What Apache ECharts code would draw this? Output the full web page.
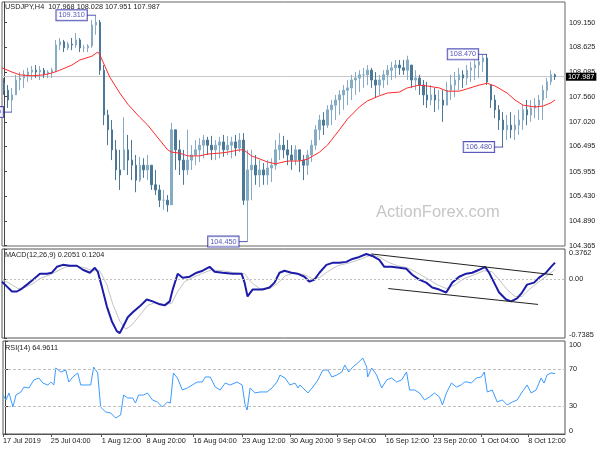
<!DOCTYPE html>
<html><head><meta charset="utf-8">
<script src="https://cdn.jsdelivr.net/npm/echarts@6/dist/echarts.min.js"></script>
<style>html,body{margin:0;padding:0;background:#fff}#c{width:600px;height:450px}</style>
</head><body><div id="c"></div>
<script>
// ---------- DATA ----------
// Price bars (each bar ~ 2.7 H4 bars), values in JPY
const barHigh = [107.96,107.81,107.75,108.03,108.09,108.13,108.18,108.22,108.24,108.22,
108.18,108.13,108.18,108.78,108.82,108.78,108.74,108.82,108.93,108.82,
108.67,108.69,109.21,109.31,109.21,108.24,107.28,107.06,106.63,106.42,
107.12,106.74,106.63,106.31,106.27,106.24,106.31,106.09,105.99,105.67,
105.56,105.45,107.00,106.85,106.63,106.42,106.85,106.52,106.63,106.67,
106.74,106.70,106.72,106.63,106.70,106.74,106.72,106.70,106.74,106.78,
106.78,106.42,106.42,106.31,106.20,106.14,106.20,106.24,106.63,106.78,
106.72,106.63,106.52,106.52,106.42,106.31,106.42,106.63,106.95,107.17,
107.23,107.38,107.49,107.60,107.70,107.81,107.92,108.03,108.09,108.13,
108.18,108.24,108.18,108.09,108.03,108.13,108.24,108.31,108.35,108.35,
108.35,108.44,108.24,108.13,108.03,107.92,107.88,107.81,107.75,107.70,
107.70,107.88,108.03,108.09,108.18,108.13,108.24,108.31,108.35,108.41,
108.46,108.47,107.81,107.60,107.38,107.23,107.17,107.23,107.17,107.28,
107.38,107.49,107.49,107.53,107.60,107.81,107.96,108.13,108.06];
const barLow = [107.60,107.32,107.23,107.60,107.70,107.75,107.88,107.92,107.96,107.92,
107.96,107.96,107.96,108.09,108.56,108.52,108.56,108.56,108.61,108.52,
108.52,108.52,108.61,108.89,108.03,106.95,106.52,106.20,105.77,105.56,
105.99,105.88,105.77,105.51,105.73,105.82,105.77,105.56,105.45,105.19,
105.13,105.09,105.24,105.99,105.88,105.67,105.88,105.99,106.09,106.16,
106.24,106.31,106.20,106.20,106.24,106.27,106.31,106.24,106.29,106.37,
105.24,104.45,105.34,105.67,105.62,105.67,105.67,105.73,105.99,106.20,
106.24,106.09,105.99,106.09,105.94,105.77,105.88,106.16,106.42,106.63,
106.74,106.89,106.95,107.06,107.17,107.28,107.38,107.49,107.60,107.66,
107.75,107.81,107.75,107.53,107.60,107.75,107.81,107.92,107.96,108.03,
108.03,107.92,107.75,107.70,107.60,107.38,107.32,107.38,107.23,107.28,
107.02,107.38,107.49,107.55,107.70,107.75,107.81,107.88,107.92,107.96,
108.09,107.81,107.32,107.10,106.85,106.48,106.63,106.67,106.63,106.74,
106.85,106.95,107.02,107.10,107.06,107.06,107.53,107.81,107.92];
const barClose = [107.70,107.49,107.60,107.92,107.96,108.03,108.09,108.13,108.09,108.13,
108.05,108.09,108.13,108.67,108.74,108.61,108.69,108.67,108.78,108.61,
108.61,108.65,109.10,109.16,108.13,107.17,106.85,106.42,105.99,105.88,
106.42,106.20,106.09,105.77,106.09,105.99,106.09,105.67,105.56,105.34,
105.34,105.24,106.85,106.42,106.20,105.99,106.20,106.31,106.42,106.52,
106.63,106.52,106.42,106.52,106.59,106.42,106.52,106.59,106.46,106.63,
105.34,105.99,106.09,105.88,105.99,105.88,106.03,106.09,106.42,106.52,
106.42,106.31,106.20,106.42,106.20,106.09,106.31,106.52,106.85,107.06,
106.95,107.28,107.38,107.49,107.60,107.70,107.75,107.92,107.96,108.03,
108.03,108.13,107.92,107.81,107.92,108.03,108.13,108.18,108.24,108.18,
108.13,108.35,107.92,107.96,107.81,107.60,107.49,107.60,107.49,107.49,
107.38,107.70,107.81,107.92,108.03,107.96,108.13,108.18,108.24,108.31,
108.39,107.88,107.49,107.28,107.06,106.85,106.95,106.85,106.95,107.06,
107.28,107.17,107.32,107.38,107.49,107.70,107.88,108.03,107.987];
const firstOpen = 107.85;
const lastPrice = 107.987;
const slotCount = 141;

// Moving average [bar position, price]
const maPoints = [[-0.5,108.18],[2,108.09],[4,108.03],[7,108.01],[10,108.03],[12,108.07],[14,108.13],[17,108.24],[19,108.35],[22,108.43],[23.5,108.52],[24,108.46],[26.5,107.98],[29,107.64],[31,107.40],[34,107.12],[36,106.95],[39,106.63],[41,106.42],[42,106.37],[44,106.35],[46,106.29],[49,106.29],[51,106.33],[54,106.35],[56,106.37],[59,106.42],[60,106.42],[62,106.29],[66,106.16],[68,106.12],[71,106.18],[74,106.18],[76,106.22],[79,106.37],[81,106.52],[84,106.85],[86,107.08],[89,107.34],[91,107.47],[94,107.58],[96,107.64],[99,107.66],[101,107.75],[104,107.81],[106,107.79],[109,107.75],[111,107.68],[114,107.68],[116,107.73],[119,107.81],[121,107.85],[123,107.79],[126,107.64],[128,107.49],[130,107.38],[133,107.34],[135,107.36],[137,107.43],[138,107.49]];

// Swing high/low labels
const extremePos = [2, 23, 61, 121, 125];
const extremePrice = [107.230, 109.310, 104.450, 108.470, 106.480];

// MACD main line and signal [bar position, value]
const macdPoints = [[-0.5,-0.033],[0.75,-0.095],[2,-0.156],[3.25,-0.156],[4.5,-0.119],[5.75,-0.070],[7.25,-0.008],[9,0.067],[10.75,0.067],[12,0.079],[13.25,0.153],[14.75,0.178],[16.5,0.166],[18.25,0.166],[19.75,0.116],[21.5,0.079],[22.75,0.141],[23.5,0.091],[24.5,-0.095],[25.75,-0.342],[27,-0.528],[28.25,-0.652],[29,-0.677],[29.75,-0.603],[31,-0.478],[32.25,-0.417],[34,-0.342],[35.75,-0.256],[37.25,-0.280],[39,-0.317],[40.25,-0.330],[41.5,-0.280],[42.25,-0.132],[43.5,0.067],[44.75,0.017],[46.5,0.029],[48.25,0.079],[49.75,0.104],[51.5,0.153],[52.75,0.091],[54.75,0.079],[57.25,0.067],[59.5,0.067],[60.25,-0.045],[61,-0.218],[62.25,-0.132],[64.75,-0.132],[66.5,-0.107],[67.75,-0.045],[69,0.079],[70.25,0.104],[72,0.079],[73.5,0.067],[75.25,0.029],[76.5,-0.033],[77.75,-0.008],[79,0.079],[80.75,0.178],[82.25,0.203],[84,0.203],[85.75,0.215],[87.25,0.252],[89,0.277],[90.75,0.314],[92.25,0.289],[94,0.240],[95.25,0.153],[97,0.153],[99,0.141],[100.75,0.128],[102.25,0.054],[104,-0.008],[105.75,-0.045],[107.25,-0.107],[109,-0.132],[110.75,-0.169],[112.25,-0.045],[114,0.029],[115.75,0.067],[117.25,0.079],[119,0.116],[120.5,0.153],[121.5,0.079],[122.75,-0.045],[124,-0.169],[125.75,-0.256],[127,-0.280],[128.5,-0.243],[129.75,-0.169],[131,-0.070],[132.75,-0.045],[134,0.017],[135.75,0.079],[137,0.153],[138,0.2051]];
const signalPoints = [[-0.5,-0.008],[1.5,-0.057],[3.5,-0.119],[5.25,-0.107],[7.25,-0.057],[9,0.005],[11.5,0.054],[13.5,0.104],[15.5,0.153],[17.75,0.166],[20.25,0.141],[22.25,0.104],[24,0.104],[25.75,-0.070],[27.25,-0.317],[29,-0.528],[30.5,-0.627],[32,-0.578],[34,-0.454],[36,-0.330],[38,-0.293],[40.25,-0.317],[42,-0.305],[43.5,-0.156],[45.25,-0.033],[47.25,0.017],[49.5,0.067],[52,0.116],[54.5,0.104],[57.75,0.079],[60.25,0.067],[62,-0.045],[64,-0.119],[66.5,-0.119],[68.5,-0.057],[70.5,0.042],[72.75,0.079],[75.25,0.054],[77.25,0.005],[79,0.017],[81,0.091],[83.5,0.166],[86.5,0.203],[89.5,0.252],[92,0.302],[94,0.277],[96,0.215],[98.5,0.166],[101,0.141],[103.5,0.079],[106,0.005],[108.5,-0.070],[110.75,-0.119],[113,-0.070],[115.25,0.005],[117.75,0.054],[120.25,0.104],[122.25,0.091],[124,-0.008],[126,-0.132],[128,-0.218],[129.75,-0.218],[131.5,-0.132],[134,-0.033],[136,0.042],[138,0.1204]];
const macdUpperTrend = [[92,0.314],[137.5,0.054]];
const macdLowerTrend = [[96.25,-0.119],[133.75,-0.318]];

// RSI(14) [bar position, value]
const rsiPoints = [[-0.5,41.9],[0.25,36.6],[1,44.1],[2,29.0],[2.75,41.9],[4,45.2],[4.75,50.5],[6,49.5],[7.25,58.1],[8.5,60.2],[9.5,54.8],[10.75,52.7],[11.5,55.9],[12.25,52.7],[12.75,71.0],[14,66.7],[15.25,68.8],[16,55.9],[17,61.3],[18.25,65.6],[19,52.7],[20.25,52.7],[21.5,52.7],[22.25,72.0],[23.25,65.6],[24,29.0],[25.25,23.7],[26.5,22.6],[27.75,17.2],[29,20.4],[29.75,41.9],[30.75,38.7],[32,38.7],[32.75,33.3],[33.5,41.9],[34.75,41.9],[35.75,44.1],[37,36.6],[38.25,34.4],[39.5,29.0],[40.75,34.4],[41.5,33.3],[42.25,65.6],[43.25,60.2],[44.5,47.3],[45.75,49.5],[47,52.7],[48.25,55.9],[49.5,55.9],[50.25,61.3],[51.5,61.3],[52.75,50.5],[54,47.3],[55.25,54.8],[56.5,52.7],[58.25,55.9],[59.5,52.7],[60.25,31.2],[60.75,25.8],[61.5,49.5],[62.75,44.1],[64,45.2],[65.75,45.2],[67,49.5],[68.25,55.9],[69,63.4],[70.25,60.2],[71.5,52.7],[72.75,54.8],[73.5,49.5],[74,52.7],[75.25,47.3],[76,44.1],[77.25,50.5],[78.5,58.1],[79.75,68.8],[81,68.8],[82,61.3],[83.25,63.4],[84.5,66.7],[85.25,74.2],[86.25,66.7],[87.25,72.0],[88.5,76.3],[89.75,81.7],[90.75,72.0],[91,61.3],[92,71.0],[93.25,63.4],[94.5,49.5],[95.75,58.1],[97,60.2],[98.25,55.9],[99.5,58.1],[100.75,66.7],[101.5,47.3],[102.75,47.3],[104,44.1],[105.25,36.6],[106.5,39.8],[107.75,44.1],[109,39.8],[109.75,31.2],[110.75,44.1],[112,54.8],[113.25,50.5],[114.5,52.7],[115.25,55.9],[116,55.9],[117,54.8],[118.25,60.2],[119.5,61.3],[120.25,66.7],[121,45.2],[122.25,47.3],[123.5,34.4],[124.75,36.6],[126,31.2],[127.25,34.4],[128.5,36.6],[129.75,45.2],[131,52.7],[132,44.1],[133.25,47.3],[134.5,60.2],[135.25,54.8],[136,63.4],[137,65.6],[138,64.96]];
const rsiLevels = [30, 70];

// Axis ticks
const priceTicks = [104.365,104.890,105.430,105.955,106.495,107.020,107.560,108.085,108.625,109.150];
const macdTicks = [-0.7385, 0, 0.3762];
const rsiTicks = [0, 30, 70, 100];
const timePos = [-0.5, 11.5, 24.25, 35.5, 47.25, 59.5, 71.5, 83.25, 95.5, 107.5, 119.5, 131.25];
const timeLabels = ['17 Jul 2019','25 Jul 04:00','1 Aug 12:00','8 Aug 20:00','16 Aug 04:00','23 Aug 12:00','30 Aug 20:00','9 Sep 04:00','16 Sep 12:00','23 Sep 20:00','1 Oct 04:00','8 Oct 12:00'];

// ---------- BUILD ----------
const FONT = '"Liberation Sans", Arial, sans-serif';
const FS = 7.3;
const cats = Array.from({length: slotCount}, (_, i) => String(i));
const candles = barClose.map((c, i) => {
  const prev = i === 0 ? firstOpen : barClose[i - 1];
  const o = Math.min(Math.max(prev, barLow[i]), barHigh[i]);
  return [o, c, barLow[i], barHigh[i]];
});
const lbl = { fontFamily: FONT, fontSize: FS, color: '#222' };

const chart = echarts.init(document.getElementById('c'), null, { renderer: 'canvas' });
chart.setOption({
  animation: false,
  backgroundColor: '#fff',
  grid: [
    { left: 2, right: 35, top: 2, height: 244, show: true, borderColor: '#666', borderWidth: 1 },
    { left: 2, right: 35, top: 249, height: 89, show: true, borderColor: '#555', borderWidth: 1 },
    { left: 2, right: 35, top: 341, height: 93, show: true, borderColor: '#555', borderWidth: 1 }
  ],
  xAxis: [
    { type: 'category', gridIndex: 0, data: cats, boundaryGap: true, show: false },
    { type: 'value', gridIndex: 0, min: -0.5, max: slotCount - 0.5, show: false },
    { type: 'value', gridIndex: 1, min: -0.5, max: slotCount - 0.5, show: false },
    { type: 'value', gridIndex: 2, min: -0.5, max: slotCount - 0.5,
      splitLine: { show: false },
      axisLine: { show: true, lineStyle: { color: '#555' } },
      axisTick: { show: true, customValues: timePos, length: 3, lineStyle: { color: '#555' } },
      axisLabel: Object.assign({ customValues: timePos, align: 'left', margin: 3,
        formatter: v => { const k = timePos.findIndex(t => Math.abs(t - v) < 1e-6); return k >= 0 ? timeLabels[k] : ''; } }, lbl) }
  ],
  yAxis: [
    { type: 'value', gridIndex: 0, position: 'right', min: 104.356, max: 109.594,
      splitLine: { show: false },
      axisLine: { show: true, lineStyle: { color: '#444' } },
      axisTick: { show: true, customValues: priceTicks, length: 3, lineStyle: { color: '#444' } },
      axisLabel: Object.assign({ customValues: priceTicks, margin: 4, formatter: v => v.toFixed(3) }, lbl) },
    { type: 'value', gridIndex: 1, position: 'right', min: -0.7385, max: 0.3762,
      splitLine: { show: false },
      axisLine: { show: true, lineStyle: { color: '#444' } },
      axisTick: { show: true, customValues: macdTicks, length: 3, lineStyle: { color: '#444' } },
      axisLabel: Object.assign({ customValues: macdTicks, margin: 4,
        verticalAlignMaxLabel: 'top', verticalAlignMinLabel: 'bottom',
        formatter: v => v === 0 ? '0.00' : v.toFixed(4) }, lbl) },
    { type: 'value', gridIndex: 2, position: 'right', min: 0, max: 100,
      splitLine: { show: false },
      axisLine: { show: true, lineStyle: { color: '#444' } },
      axisTick: { show: true, customValues: rsiTicks, length: 3, lineStyle: { color: '#444' } },
      axisLabel: Object.assign({ customValues: rsiTicks, margin: 4,
        verticalAlignMaxLabel: 'top', verticalAlignMinLabel: 'bottom' }, lbl) }
  ],
  graphic: [
    { type: 'text', left: 376, top: 204, z: 0, silent: true,
      style: { text: 'ActionForex.com', fill: '#c6c6c6', font: '16.5px "Liberation Sans", Arial, sans-serif' } },
    { type: 'text', left: 5, top: 3, z: 100, style: { text: 'USDJPY,H4  107.968 108.028 107.951 107.987', fill: '#222', font: FS + 'px ' + FONT } },
    { type: 'text', left: 5, top: 251, z: 100, style: { text: 'MACD(12,26,9) 0.2051 0.1204', fill: '#222', font: FS + 'px ' + FONT } },
    { type: 'text', left: 5, top: 344, z: 100, style: { text: 'RSI(14) 64.9611', fill: '#222', font: FS + 'px ' + FONT } }
  ],
  series: [
    { type: 'candlestick', xAxisIndex: 0, yAxisIndex: 0, data: candles, barWidth: 2,
      itemStyle: { color: '#86abc4', color0: '#4a7896', borderColor: '#86abc4', borderColor0: '#4a7896', borderWidth: 1 },
      markLine: { silent: true, symbol: 'none', z: 1,
        lineStyle: { color: '#c8c8c8', type: 'solid', width: 1 },
        label: Object.assign({ position: 'end', distance: 1, formatter: lastPrice.toFixed(3),
          backgroundColor: '#000', padding: [1, 2, 0, 2] }, lbl, { color: '#fff' }),
        data: [{ yAxis: lastPrice }] } },
    { type: 'line', xAxisIndex: 1, yAxisIndex: 0, data: maPoints, showSymbol: false, z: 3,
      lineStyle: { color: '#ff2a2a', width: 1 } },
    { type: 'scatter', xAxisIndex: 1, yAxisIndex: 0, z: 5,
      data: extremePos.map((p, i) => [p, extremePrice[i]]),
      symbol: 'rect', symbolSize: [9, 1], symbolOffset: [-4.5, 0],
      itemStyle: { color: '#2a2aa8' },
      label: Object.assign({ show: true, position: 'left', distance: 0,
        formatter: p => p.value[1].toFixed(3),
        backgroundColor: '#fff', borderColor: '#2a2aa8', borderWidth: 1, padding: [2, 2, 1, 2] }, lbl, { color: '#2a2aa8' }) },
    { type: 'line', xAxisIndex: 2, yAxisIndex: 1, data: signalPoints, showSymbol: false, z: 3,
      lineStyle: { color: '#c4c4c4', width: 1 } },
    { type: 'line', xAxisIndex: 2, yAxisIndex: 1, data: macdPoints, showSymbol: false, z: 4,
      lineStyle: { color: '#1c1ca8', width: 2 },
      markLine: { silent: true, symbol: 'none', label: { show: false },
        lineStyle: { color: '#c0c0c0', type: [2, 2], width: 1 }, data: [{ yAxis: 0 }] } },
    { type: 'line', xAxisIndex: 2, yAxisIndex: 1, data: macdUpperTrend, showSymbol: false, z: 5,
      lineStyle: { color: '#222', width: 1 } },
    { type: 'line', xAxisIndex: 2, yAxisIndex: 1, data: macdLowerTrend, showSymbol: false, z: 5,
      lineStyle: { color: '#222', width: 1 } },
    { type: 'line', xAxisIndex: 3, yAxisIndex: 2, data: rsiPoints, showSymbol: false, z: 4,
      lineStyle: { color: '#3b9bff', width: 1 },
      markLine: { silent: true, symbol: 'none', label: { show: false },
        lineStyle: { color: '#c0c0c0', type: [3, 2], width: 1 },
        data: rsiLevels.map(v => ({ yAxis: v })) } }
  ]
});
</script>
</body></html>
